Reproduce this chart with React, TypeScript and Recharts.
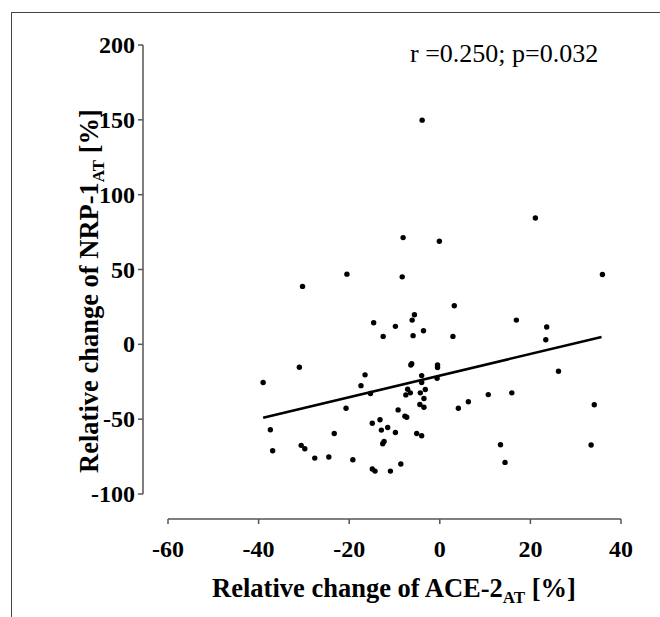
import React from "react";
import { ScatterChart, Scatter, XAxis, YAxis, ReferenceLine, Label } from "recharts";

// relative change of ACE-2 (x) and NRP-1 (y)
const ace2Change = [
  -30.3, -31.0, -39.0, -37.4, -36.9, -30.6, -29.8, -3.9, -8.1, -0.1,
  -20.5, -8.3, 3.2, -5.6, -6.1, -14.6, -9.8, -3.6, -12.5, -5.9,
  2.9, -6.4, -6.2, -0.5, -0.5, -16.5, -4.0, -17.4, -4.0, -0.6,
  -15.3, -7.1, -6.5, -7.5, -4.3, -3.2, -3.5, -4.4, -3.5, -20.7,
  -9.2, -7.7, -7.3, 4.1, 6.3, -14.9, -13.2, -12.9, -11.5, -9.8,
  -23.3, -5.1, -4.0, -12.6, -12.3, -27.6, -24.5, -19.2, -8.6, -14.9,
  -14.3, -10.9, 21.1, 35.9, 16.9, 23.6, 23.4, 26.2, 10.7, 15.9,
  34.1, 13.4, 33.4, 14.4,
];
const nrp1Change = [
  38.7, -15.3, -25.5, -57.1, -71.1, -67.5, -69.8, 149.8, 71.3, 68.9,
  46.9, 45.1, 25.8, 19.8, 16.2, 14.4, 12.0, 9.1, 5.3, 5.8,
  5.3, -13.8, -12.9, -13.8, -15.5, -20.4, -20.9, -27.6, -25.5, -22.7,
  -32.9, -30.0, -32.4, -33.8, -32.4, -30.2, -36.2, -40.2, -42.0, -42.7,
  -43.8, -48.0, -48.7, -42.7, -38.4, -52.7, -50.4, -57.3, -55.6, -58.9,
  -59.6, -59.6, -61.1, -66.4, -64.9, -76.0, -75.3, -77.1, -80.0, -83.3,
  -84.7, -84.7, 84.4, 46.7, 16.2, 11.6, 3.1, -18.0, -33.6, -32.4,
  -40.4, -67.1, -67.3, -78.9,
];

// regression line end points
const fitX = [-39, 35.7];
const fitY = [-49.1, 4.9];

const xTicks = [-60, -40, -20, 0, 20, 40];
const yTicks = [-100, -50, 0, 50, 100, 150, 200];
const statsText = "r =0.250; p=0.032";

const points = ace2Change.map((x, i) => ({ x, y: nrp1Change[i] }));
const fitSegment = fitX.map((x, i) => ({ x, y: fitY[i] }));

const FONT = "'Liberation Serif', 'Times New Roman', serif";
const AXIS = "#555";

const Dot = (props: any) => <circle cx={props.cx} cy={props.cy} r={2.7} fill="#000" />;

const XTick = (props: any) => (
  <text
    x={props.x}
    y={props.y + 33}
    textAnchor="middle"
    fontFamily={FONT}
    fontSize={24}
    fontWeight={700}
    fill="#000"
  >
    {props.payload.value}
  </text>
);

const YTick = (props: any) => (
  <text
    x={props.x}
    y={props.y + 8}
    textAnchor="end"
    fontFamily={FONT}
    fontSize={24}
    fontWeight={700}
    fill="#000"
  >
    {props.payload.value}
  </text>
);

const XTitle = () => (
  <text x={394} y={597} textAnchor="middle" fontFamily={FONT} fontSize={26.5} fontWeight={700} fill="#000">
    Relative change of ACE-2
    <tspan fontSize={17} dy={6}>AT</tspan>
    <tspan dy={-6}> [%]</tspan>
  </text>
);

const YTitle = () => (
  <text
    x={0}
    y={0}
    transform="translate(98, 291) rotate(-90)"
    textAnchor="middle"
    fontFamily={FONT}
    fontSize={26.5}
    fontWeight={700}
    fill="#000"
  >
    Relative change of NRP-1
    <tspan fontSize={17} dy={6}>AT</tspan>
    <tspan dy={-6}> [%]</tspan>
  </text>
);

export default function App() {
  return (
    <div style={{ position: "absolute", left: 0, top: 0, width: 660, height: 617, background: "#fff" }}>
      <div
        style={{
          position: "absolute",
          left: 11,
          top: 12,
          right: 0,
          bottom: 0,
          borderTop: "1px solid #444",
          borderLeft: "1px solid #444",
        }}
      />
      <div
        style={{
          position: "absolute",
          left: 410,
          top: 41,
          fontFamily: FONT,
          fontSize: 26,
          lineHeight: "26px",
          color: "#000",
          whiteSpace: "nowrap",
        }}
      >
        {statsText}
      </div>
      <ScatterChart
        width={660}
        height={617}
        margin={{ top: 45, right: 39, bottom: 38, left: 83 }}
        style={{ position: "absolute", left: 0, top: 0 }}
      >
        <XAxis
          type="number"
          dataKey="x"
          domain={[-60, 40]}
          ticks={xTicks}
          padding={{ left: 25, right: 0 }}
          height={60}
          tickSize={5}
          tickMargin={0}
          tick={<XTick />}
          axisLine={{ stroke: AXIS, strokeWidth: 1.5, strokeDasharray: "0 25 453 100" }}
          tickLine={{ stroke: AXIS, strokeWidth: 1.5 }}
          allowDataOverflow
        >
          <Label content={<XTitle />} />
        </XAxis>
        <YAxis
          type="number"
          dataKey="y"
          domain={[-100, 200]}
          ticks={yTicks}
          padding={{ top: 0, bottom: 25 }}
          width={60}
          tickSize={5}
          tickMargin={3}
          tick={<YTick />}
          axisLine={{ stroke: AXIS, strokeWidth: 1.5, strokeDasharray: "449 100" }}
          tickLine={{ stroke: AXIS, strokeWidth: 1.5 }}
          allowDataOverflow
        >
          <Label content={<YTitle />} />
        </YAxis>
        <ReferenceLine segment={fitSegment} stroke="#000" strokeWidth={2.5} ifOverflow="visible" />
        <Scatter data={points} shape={<Dot />} isAnimationActive={false} />
      </ScatterChart>
    </div>
  );
}
